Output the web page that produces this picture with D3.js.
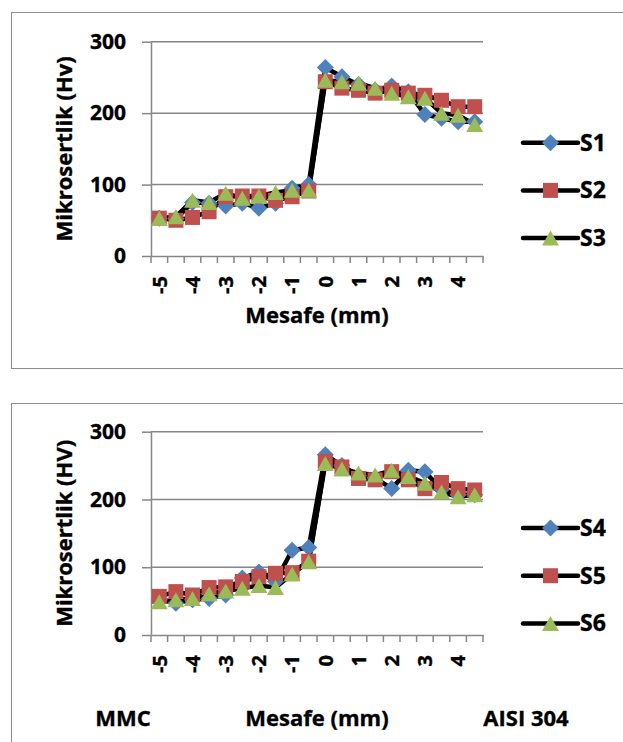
<!DOCTYPE html>
<html>
<head>
<meta charset="utf-8">
<script src="https://cdn.jsdelivr.net/npm/d3@7"></script>
<style>
  body { margin: 0; background: #fff; }
  svg text { font-family: "Open Sans", sans-serif; font-weight: bold; fill: #000; stroke: #000; stroke-width: 0.35px; }
</style>
</head>
<body>
<svg width="623" height="742"></svg>
<script>
const categories = ["-5","-4.5","-4","-3.5","-3","-2.5","-2","-1.5","-1","-0.5","0","0.5","1","1.5","2","2.5","3","3.5","4","4.5"];
const tickLabels = ["-5","-4","-3","-2","-1","0","1","2","3","4"];
const yTicks = [0, 100, 200, 300];

const s1 = [53, 52, 75, 74, 70, 74, 67, 74, 95, 100, 264, 251, 240, 232, 238, 230, 198, 193, 188, 188];
const s2 = [53, 50, 54, 62, 83, 84, 84, 78, 83, 91, 244, 235, 232, 228, 232, 228, 225, 218, 209, 209];
const s3 = [53, 55, 78, 75, 88, 81, 84, 89, 92, 92, 246, 244, 242, 235, 228, 223, 221, 200, 197, 184];

const s4 = [52, 47, 52, 54, 59, 84, 93, 79, 125, 129, 266, 250, 235, 232, 216, 243, 241, 215, 207, 207];
const s5 = [57, 64, 59, 70, 71, 79, 86, 91, 92, 109, 256, 248, 231, 229, 241, 229, 216, 225, 216, 214];
const s6 = [49, 52, 54, 61, 65, 69, 73, 70, 90, 108, 253, 245, 239, 236, 243, 234, 224, 211, 204, 207];

const svg = d3.select("svg");
const grey = "#868686";

// marker shapes, excel style
const shapes = {
  diamond: "M0,-8.5L8.5,0L0,8.5L-8.5,0Z",
  square: "M-7.5,-7.5H7.5V7.5H-7.5Z",
  triangle: "M0,-7.5L8.5,7.5H-8.5Z"
};
const colors = { diamond: "#4f81bd", square: "#c0504d", triangle: "#9bbb59" };

function drawChart(opt) {
  // border box
  svg.append("rect").attr("x", 11.5).attr("y", opt.boxTop + 0.5).attr("width", 640).attr("height", opt.boxH)
    .attr("fill", "none").attr("stroke", "#8c8c8c").attr("stroke-width", 1);

  const x = d3.scaleBand().domain(categories).range([151, 483]);
  const y = d3.scaleLinear().domain([0, 300]).range([opt.y0, opt.y300]);

  const g = svg.append("g");

  // gridlines
  g.selectAll(".grid").data(yTicks.slice(1)).join("line")
    .attr("x1", 151).attr("x2", 483)
    .attr("y1", d => y(d)).attr("y2", d => y(d))
    .attr("stroke", grey).attr("stroke-width", 1.5);

  // y axis
  const ya = g.append("g").attr("transform", "translate(151,0)")
    .call(d3.axisLeft(y).tickValues(yTicks).tickSize(9).tickSizeOuter(0).tickPadding(16));
  ya.select(".domain").attr("stroke", grey).attr("stroke-width", 1.5);
  ya.selectAll(".tick line").attr("stroke", grey).attr("stroke-width", 1.5);
  ya.selectAll("text").attr("font-size", 21).attr("font-family", null).attr("fill", "#000");

  // x axis line + labels
  const xa = g.append("g").attr("transform", `translate(0,${opt.y0})`)
    .call(d3.axisBottom(x).tickValues(tickLabels).tickSize(0).tickSizeOuter(0));
  xa.select(".domain").attr("stroke", grey).attr("stroke-width", 1.5);
  xa.selectAll("text")
    .attr("font-size", 20).attr("font-family", null).attr("fill", "#000")
    .attr("transform", "rotate(-90)").attr("text-anchor", "end")
    .attr("x", -20).attr("y", 0).attr("dy", "0.36em");

  // boundary tick marks
  const bounds = categories.map(c => x(c)).concat([x.range()[1]]);
  g.selectAll(".xt").data(bounds).join("line")
    .attr("x1", d => d).attr("x2", d => d)
    .attr("y1", opt.y0).attr("y2", opt.y0 + 7)
    .attr("stroke", grey).attr("stroke-width", 1.5);

  // titles
  g.append("text").attr("transform", `translate(72,${(opt.y0 + opt.y300) / 2}) rotate(-90)`)
    .attr("text-anchor", "middle").attr("font-size", 22).text(opt.yTitle);
  g.append("text").attr("x", 317).attr("y", opt.xTitleY)
    .attr("text-anchor", "middle").attr("font-size", 22).text("Mesafe (mm)");

  const line = d3.line().x((d, i) => x(categories[i]) + x.bandwidth() / 2).y(d => y(d));

  // lines first, then markers
  opt.series.forEach(s => {
    g.append("path").datum(s.values).attr("d", line)
      .attr("fill", "none").attr("stroke", "#000").attr("stroke-width", 4.5)
      .attr("stroke-linejoin", "round");
  });
  opt.series.forEach(s => {
    g.selectAll(null).data(s.values).join("path")
      .attr("d", shapes[s.shape])
      .attr("transform", (d, i) => `translate(${x(categories[i]) + x.bandwidth() / 2},${y(d)})`)
      .attr("fill", colors[s.shape]);
  });

  // legend
  const lg = g.selectAll(".leg").data(opt.series).join("g")
    .attr("transform", (d, i) => `translate(523,${opt.legendY + i * 47.7})`);
  lg.append("line").attr("x1", 0).attr("x2", 55).attr("stroke", "#000").attr("stroke-width", 4.5).attr("stroke-linecap", "round");
  lg.append("path").attr("d", d => shapes[d.shape]).attr("transform", "translate(27.5,0)").attr("fill", d => colors[d.shape]);
  lg.append("text").attr("x", 57).attr("y", 8).attr("font-size", 23).text(d => d.name);
}

drawChart({
  boxTop: 12, boxH: 356, y0: 256, y300: 41.7, xTitleY: 323, legendY: 142.7,
  yTitle: "Mikrosertlik (Hv)",
  series: [
    { name: "S1", values: s1, shape: "diamond" },
    { name: "S2", values: s2, shape: "square" },
    { name: "S3", values: s3, shape: "triangle" }
  ]
});

drawChart({
  boxTop: 403, boxH: 400, y0: 635, y300: 431.7, xTitleY: 726, legendY: 528,
  yTitle: "Mikrosertlik (HV)",
  series: [
    { name: "S4", values: s4, shape: "diamond" },
    { name: "S5", values: s5, shape: "square" },
    { name: "S6", values: s6, shape: "triangle" }
  ]
});

svg.append("text").attr("x", 123).attr("y", 726).attr("text-anchor", "middle").attr("font-size", 22).text("MMC");
svg.append("text").attr("x", 526).attr("y", 726).attr("text-anchor", "middle").attr("font-size", 22).text("AISI 304");
</script>
</body>
</html>
